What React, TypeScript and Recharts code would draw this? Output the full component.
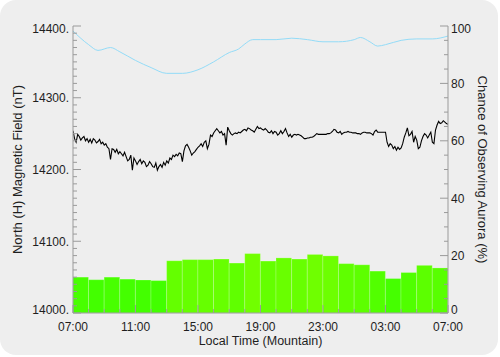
import { Bar, ComposedChart, Label, Line, XAxis, YAxis } from "recharts";

// magnetometer H component, one sample every 0.1 h starting 07:00
const fieldStep = 0.1;
const fieldValues = [
  14254, 14243, 14238, 14249, 14246, 14241, 14244, 14246, 14240, 14243,
  14238, 14242, 14237, 14243, 14241, 14237, 14239, 14242, 14236, 14238,
  14234, 14236, 14231, 14229, 14214, 14229, 14228, 14224, 14228, 14222,
  14225, 14222, 14219, 14224, 14218, 14212, 14214, 14220, 14199, 14216,
  14212, 14207, 14211, 14214, 14208, 14212, 14210, 14204, 14206, 14211,
  14208, 14204, 14203, 14209, 14199, 14204, 14207, 14203, 14210, 14206,
  14212, 14209, 14216, 14214, 14220, 14218, 14221, 14219, 14223, 14222,
  14211, 14226, 14233, 14235, 14231, 14226, 14220, 14223, 14225, 14228,
  14231, 14233, 14236, 14232, 14238, 14240, 14229, 14235, 14248, 14246,
  14251, 14254, 14257, 14254, 14251, 14253, 14248, 14250, 14234, 14259,
  14254, 14250, 14248, 14250, 14251, 14250, 14252, 14251, 14253, 14255,
  14256, 14254, 14258, 14257, 14255, 14254, 14252, 14256, 14260, 14257,
  14258, 14256, 14255, 14257, 14255, 14252, 14251, 14254, 14250, 14253,
  14252, 14248, 14250, 14254, 14250, 14253, 14257, 14251, 14246, 14249,
  14245, 14248, 14249, 14248, 14249, 14248, 14247, 14245, 14243, 14243,
  14244, 14244, 14245, 14245, 14246, 14248, 14250, 14249, 14249, 14249,
  14249, 14249, 14249, 14250, 14250, 14251, 14253, 14256, 14255, 14252,
  14251, 14253, 14249, 14251, 14252, 14252, 14253, 14252, 14252, 14251,
  14251, 14251, 14250, 14250, 14249, 14251, 14252, 14252, 14251, 14251,
  14251, 14250, 14248, 14253, 14255, 14252, 14252, 14252, 14252, 14252,
  14252, 14238, 14232, 14236, 14234, 14229, 14232, 14227, 14231, 14228,
  14230, 14236, 14245, 14251, 14258, 14247, 14249, 14253, 14238, 14246,
  14241, 14229, 14231, 14240, 14246, 14250, 14248, 14244, 14248, 14252,
  14238, 14236, 14255, 14262, 14267, 14264, 14265, 14268, 14266, 14264,
  14263,
];

// light blue reference curve (nT)
const curveHours = [
  0, 1, 1.6, 2.4, 3, 4, 5, 6, 7, 8, 9, 10, 10.6, 11, 11.5, 12, 13, 14, 15,
  16, 17, 18, 18.4, 19, 19.5, 20, 21, 22, 23, 24,
];
const curveValues = [
  14393, 14374, 14366, 14370, 14364, 14352, 14342, 14334, 14334, 14339,
  14350, 14363, 14368, 14375, 14381, 14381, 14381, 14383, 14381, 14378,
  14378, 14381, 14384, 14378, 14372, 14374, 14380, 14382, 14382, 14386,
];

// hourly chance of observing aurora (%)
const auroraChance = [
  12.5, 11.6, 12.5, 11.8, 11.5, 11.3, 18.2, 18.6, 18.6, 18.8, 17.4, 20.7,
  18.1, 19.2, 18.8, 20.4, 19.9, 17.2, 16.8, 14.6, 12.0, 14.1, 16.6, 15.7,
];

const timeLabels = ["07:00", "11:00", "15:00", "19:00", "23:00", "03:00", "07:00"];
const fieldLabels = ["14000.", "14100.", "14200.", "14300.", "14400."];
const chanceLabels = ["0", "20", "40", "60", "80", "100"];

const AXIS = "#9a9a9a";
const TEXT = "#1e1e1e";
const FONT = "'Liberation Sans', Arial, Helvetica, sans-serif";
const HOUR_PX = 375 / 24;

const hourTicks = Array.from({ length: 25 }, (_, i) => i);
const fieldTicks = Array.from({ length: 41 }, (_, i) => 14000 + i * 10);
const chanceTicks = Array.from({ length: 21 }, (_, i) => i * 5);

type Row = { t: number; field?: number; curve?: number; aurora?: number };

const rowMap = new Map<number, Row>();
const rowAt = (t: number) => {
  const key = Math.round(t * 100) / 100;
  if (!rowMap.has(key)) rowMap.set(key, { t: key });
  return rowMap.get(key)!;
};
fieldValues.forEach((v, i) => (rowAt(i * fieldStep).field = v));
curveHours.forEach((h, i) => (rowAt(h).curve = curveValues[i]));
auroraChance.forEach((v, i) => (rowAt(i + 0.5).aurora = v));
const data = Array.from(rowMap.values()).sort((a, b) => a.t - b.t);

function barColor(v: number) {
  const k = Math.max(0, Math.min(1, (v - 11) / 10));
  return `rgb(${Math.round(0x40 + k * 0x32)},255,0)`;
}

// one block per hour, centred on the bar position recharts gives us
function HourBar(p: any) {
  const v = p.payload?.aurora;
  if (v == null || !(p.height > 0)) return <g />;
  const cx = p.x + p.width / 2;
  return (
    <rect
      x={cx - HOUR_PX / 2}
      y={p.y}
      width={HOUR_PX}
      height={p.height}
      fill={barColor(v)}
      stroke="rgba(255,255,255,0.2)"
      strokeWidth={1}
    />
  );
}

function BottomTick({ x, y, payload }: any) {
  const v = payload.value;
  const major = v % 4 === 0;
  return (
    <g>
      <line x1={x} x2={x} y1={y} y2={y - (major ? 8 : 4)} stroke={AXIS} />
      {major && (
        <text x={x} y={y + 17.5} textAnchor="middle" fontSize={12} fill={TEXT} fontFamily={FONT}>
          {timeLabels[v / 4]}
        </text>
      )}
    </g>
  );
}

function TopTick({ x, y, payload }: any) {
  const major = payload.value % 4 === 0;
  return <line x1={x} x2={x} y1={y} y2={y + (major ? 8 : 4)} stroke={AXIS} />;
}

function LeftTick({ x, y, payload }: any) {
  const v = payload.value;
  const major = v % 100 === 0;
  const shift = v === 14000 ? -3 : v === 14400 ? 3 : 0;
  return (
    <g>
      <line x1={x} x2={x + (major ? 8 : 4)} y1={y} y2={y} stroke={AXIS} />
      {major && (
        <text x={x - 4} y={y + shift + 4.3} textAnchor="end" fontSize={12} fill={TEXT} fontFamily={FONT}>
          {fieldLabels[(v - 14000) / 100]}
        </text>
      )}
    </g>
  );
}

function RightTick({ x, y, payload }: any) {
  const v = payload.value;
  const major = v % 20 === 0;
  const shift = v === 0 ? -3 : v === 100 ? 3 : 0;
  return (
    <g>
      <line x1={x} x2={x - (major ? 8 : 4)} y1={y} y2={y} stroke={AXIS} />
      {major && (
        <text x={x + 3} y={y + shift + 4.3} textAnchor="start" fontSize={12} fill={TEXT} fontFamily={FONT}>
          {chanceLabels[v / 20]}
        </text>
      )}
    </g>
  );
}

const labelStyle = { fontSize: 12.5, fill: TEXT, fontFamily: FONT };
const sideLabelStyle = { ...labelStyle, fontSize: 13 };

export default function App() {
  return (
    <div
      style={{
        position: "absolute",
        left: 0,
        top: 0,
        width: 498,
        height: 355,
        background: "#eeeeee",
        borderRadius: 16,
        overflow: "hidden",
      }}
    >
      <ComposedChart
        width={500}
        height={357}
        data={data}
        margin={{ top: 26, right: 0, bottom: 0, left: 0 }}
      >
        <Bar dataKey="aurora" yAxisId="pct" shape={<HourBar />} isAnimationActive={false} />
        <Line
          dataKey="curve"
          yAxisId="nt"
          type="monotone"
          stroke="#93dbf7"
          strokeWidth={1}
          dot={false}
          connectNulls
          isAnimationActive={false}
        />
        <Line
          dataKey="field"
          yAxisId="nt"
          type="linear"
          stroke="#000000"
          strokeWidth={1.1}
          dot={false}
          connectNulls
          isAnimationActive={false}
        />
        <XAxis
          dataKey="t"
          type="number"
          domain={[0, 24]}
          allowDataOverflow
          ticks={hourTicks}
          interval={0}
          height={44}
          tickSize={0}
          tickMargin={0}
          tick={<BottomTick />}
          axisLine={{ stroke: AXIS }}
        >
          <Label
            content={({ viewBox }: any) => (
              <text
                x={viewBox.x + viewBox.width / 2}
                y={viewBox.y + 32}
                textAnchor="middle"
                {...labelStyle}
              >
                Local Time (Mountain)
              </text>
            )}
          />
        </XAxis>
        <XAxis
          xAxisId="top"
          dataKey="t"
          type="number"
          orientation="top"
          domain={[0, 24]}
          allowDataOverflow
          ticks={hourTicks}
          interval={0}
          height={0}
          tickSize={0}
          tickMargin={0}
          tick={<TopTick />}
          axisLine={{ stroke: AXIS }}
        >
          <Label
            content={({ viewBox }: any) => (
              <text
                x={viewBox.x + viewBox.width / 2}
                y={viewBox.y - 5}
                textAnchor="middle"
                {...labelStyle}
              >
                September 17 2025 @ MSTK
              </text>
            )}
          />
        </XAxis>
        <YAxis
          yAxisId="nt"
          domain={[14000, 14400]}
          allowDataOverflow
          ticks={fieldTicks}
          interval={0}
          width={73}
          tickSize={0}
          tickMargin={0}
          tick={<LeftTick />}
          axisLine={{ stroke: AXIS }}
        >
          <Label
            content={({ viewBox }: any) => {
              const cx = viewBox.x + 17;
              const cy = viewBox.y + viewBox.height / 2;
              return (
                <text
                  x={cx}
                  y={cy}
                  transform={`rotate(-90 ${cx} ${cy})`}
                  textAnchor="middle"
                  dominantBaseline="central"
                  {...sideLabelStyle}
                >
                  North (H) Magnetic Field (nT)
                </text>
              );
            }}
          />
        </YAxis>
        <YAxis
          yAxisId="pct"
          orientation="right"
          domain={[0, 100]}
          allowDataOverflow
          ticks={chanceTicks}
          interval={0}
          width={52}
          tickSize={0}
          tickMargin={0}
          tick={<RightTick />}
          axisLine={{ stroke: AXIS }}
        >
          <Label
            content={({ viewBox }: any) => {
              const cx = viewBox.x + 34;
              const cy = viewBox.y + viewBox.height / 2;
              return (
                <text
                  x={cx}
                  y={cy}
                  transform={`rotate(90 ${cx} ${cy})`}
                  textAnchor="middle"
                  dominantBaseline="central"
                  {...sideLabelStyle}
                >
                  Chance of Observing Aurora (%)
                </text>
              );
            }}
          />
        </YAxis>
      </ComposedChart>
    </div>
  );
}
